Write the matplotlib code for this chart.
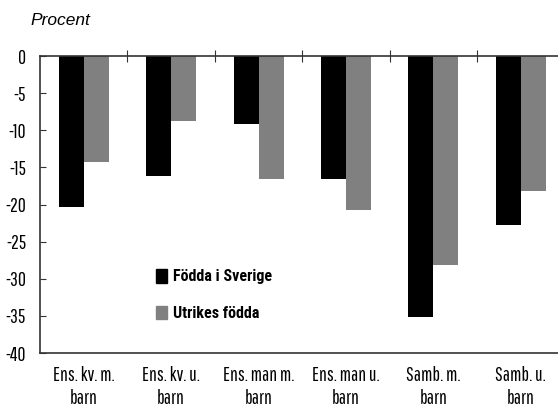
import numpy as np
import matplotlib
matplotlib.use("Agg")
import matplotlib.pyplot as plt
import matplotlib.patches as mpatches

# ── data ───────────────────────────────────────────────────────────────────
categories = ["Ens. kv. m.\nbarn", "Ens. kv. u.\nbarn", "Ens. man m.\nbarn",
              "Ens. man u.\nbarn", "Samb. m.\nbarn", "Samb. u.\nbarn"]
fodda_sverige = [-20.4, -16.2, -9.1, -16.5, -35.2, -22.7]
utrikes_fodda = [-14.3, -8.7, -16.5, -20.8, -28.2, -18.2]
yticks = [0, -5, -10, -15, -20, -25, -30, -35, -40]

BLACK = "#000000"
GREY = "#808080"
FONT = ["Pathway Gothic One", "Liberation Sans", "DejaVu Sans"]
FONT_B = ["Roboto Condensed", "Liberation Sans", "DejaVu Sans"]

fig = plt.figure(figsize=(5.58, 4.08), dpi=100)
ax = fig.add_axes([0.0717, 0.1348, 0.94, 0.7279])

x = np.arange(len(categories))
w = 0.286
ax.bar(x - w / 2, fodda_sverige, width=w, color=BLACK, zorder=2)
ax.bar(x + w / 2, utrikes_fodda, width=w, color=GREY, zorder=2)

ax.set_xlim(-0.5, len(categories) - 0.5)
ax.set_ylim(-40, 0)

ax.spines["right"].set_visible(False)
for s in ["left", "top", "bottom"]:
    ax.spines[s].set_color("#333333")
    ax.spines[s].set_linewidth(1.2)

# y axis
ax.set_yticks(yticks)
ax.set_yticklabels([str(v) for v in yticks], family=FONT, fontsize=14)
ax.tick_params(axis="y", direction="in", length=4, pad=10, color="#333333")

# x axis: boundary ticks on top line, labels below
ax.set_xticks(np.arange(0.5, len(categories) - 0.5, 1.0))
ax.set_xticklabels([])
ax.tick_params(axis="x", which="major", top=True, bottom=False,
               direction="inout", length=8, color="#333333")
ax.set_xticks(x, minor=True)
ax.set_xticklabels(categories, minor=True, family=FONT, fontsize=14,
                   linespacing=1.3)
ax.tick_params(axis="x", which="minor", length=0, pad=9)

fig.text(0.054, 0.950, "Procent", fontsize=12.5, style="italic",
         family=["Liberation Sans", "DejaVu Sans"], ha="left", va="center")

handles = [mpatches.Patch(color=BLACK, label="Födda i Sverige"),
           mpatches.Patch(color=GREY, label="Utrikes födda")]
ax.legend(handles=handles, loc="upper left", bbox_to_anchor=(0.279, 0.34),
          bbox_transform=fig.transFigure, frameon=False,
          prop={"family": FONT_B, "weight": "bold", "size": 11.5},
          handlelength=0.72, handleheight=0.9, handletextpad=0.35,
          labelspacing=1.35, borderaxespad=0, borderpad=0)

fig.savefig("out.png", dpi=100)
